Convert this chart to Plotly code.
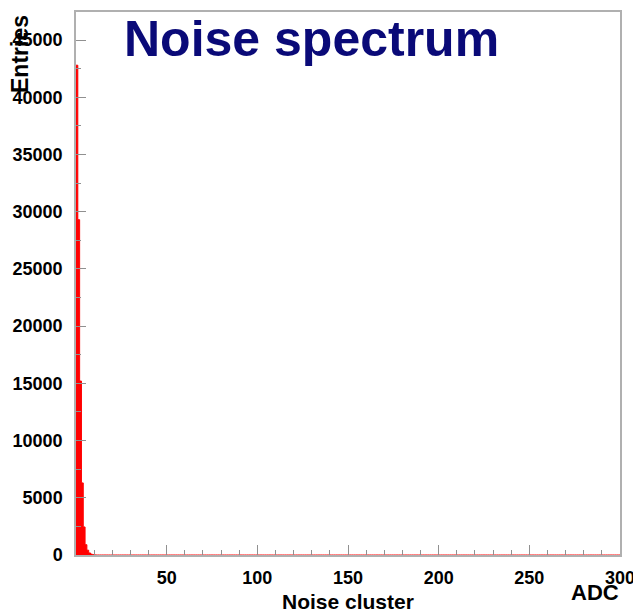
import plotly.graph_objects as go

# Histogram data: 1-ADC bins from 0 to 300
bin_low_edges = list(range(0, 300))
nonzero_counts = [42800, 29300, 15200, 6300, 2450, 900, 420, 180, 80, 30, 10]
counts = nonzero_counts + [0] * (300 - len(nonzero_counts))

x_tick_vals = [50, 100, 150, 200, 250, 300]
x_tick_text = ["50", "100", "150", "200", "250", "300"]
y_tick_vals = [0, 5000, 10000, 15000, 20000, 25000, 30000, 35000, 40000, 45000]
y_tick_text = [str(v) for v in y_tick_vals]

# step outline: edges
xs = bin_low_edges + [300]
ys = counts + [counts[-1]]

fig = go.Figure()
fig.add_trace(go.Scatter(
    x=xs, y=ys, mode="lines", line=dict(color="#ff0000", width=1, shape="hv"),
    fill="tozeroy", fillcolor="#ff0000", hoverinfo="skip", showlegend=False,
))

W, H = 633, 613
ml, mr, mt, mb = 76, 13, 12, 58
PW, PH = W - ml - mr, H - mt - mb

bold = dict(family="Liberation Sans, Arial, sans-serif", color="black", weight="bold")

fig.update_layout(
    width=W, height=H,
    margin=dict(l=ml, r=mr, t=mt, b=mb, pad=0, autoexpand=False),
    paper_bgcolor="white", plot_bgcolor="white",
    showlegend=False,
    xaxis=dict(
        range=[0, 300], tickvals=x_tick_vals, ticktext=x_tick_text,
        ticks="inside", ticklen=10, tickwidth=1, tickcolor="#909090",
        minor=dict(dtick=10, tick0=0, ticks="inside", ticklen=5, tickcolor="#909090", tickwidth=1),
        showline=True, linecolor="#b0b0b0", linewidth=1.5, mirror=True,
        showgrid=False, zeroline=False, automargin=False, ticklabeloverflow="allow",
        tickfont=dict(size=18, **bold), ticklabelstandoff=6,
    ),
    yaxis=dict(
        range=[0, 47450], tickvals=y_tick_vals, ticktext=y_tick_text,
        ticks="inside", ticklen=10, tickwidth=1, tickcolor="#909090",
        minor=dict(dtick=2500, tick0=0, ticks="inside", ticklen=5, tickcolor="#909090", tickwidth=1),
        showline=True, linecolor="#b0b0b0", linewidth=1.5, mirror=True,
        showgrid=False, zeroline=False, automargin=False, ticklabeloverflow="allow",
        tickfont=dict(size=18, **bold), ticklabelstandoff=8,
    ),
    annotations=[
        dict(text="Noise spectrum", xref="paper", yref="paper",
             x=(311 - ml) / PW, y=1 - (39 - mt) / PH,
             xanchor="center", yanchor="middle", showarrow=False,
             font=dict(family="Liberation Sans, Arial, sans-serif", size=50,
                       color="#0a0a78", weight="bold")),
        dict(text="Entries", xref="paper", yref="paper",
             x=(20 - ml) / PW, y=1 - (54 - mt) / PH,
             xanchor="center", yanchor="middle", textangle=-90, showarrow=False,
             font=dict(size=23, **bold)),
        dict(text="ADC", xref="paper", yref="paper",
             x=(621 - ml) / PW, y=1 - (592 - mt) / PH,
             xanchor="right", yanchor="middle", showarrow=False,
             font=dict(size=22, **bold)),
        dict(text="Noise cluster", xref="paper", yref="paper",
             x=(348 - ml) / PW, y=1 - (601 - mt) / PH,
             xanchor="center", yanchor="middle", showarrow=False,
             font=dict(size=21, **bold)),
    ],
)

fig.write_html("out.html", config={"displayModeBar": False},
               post_script="document.body.style.margin='0';document.body.style.overflow='hidden';")
